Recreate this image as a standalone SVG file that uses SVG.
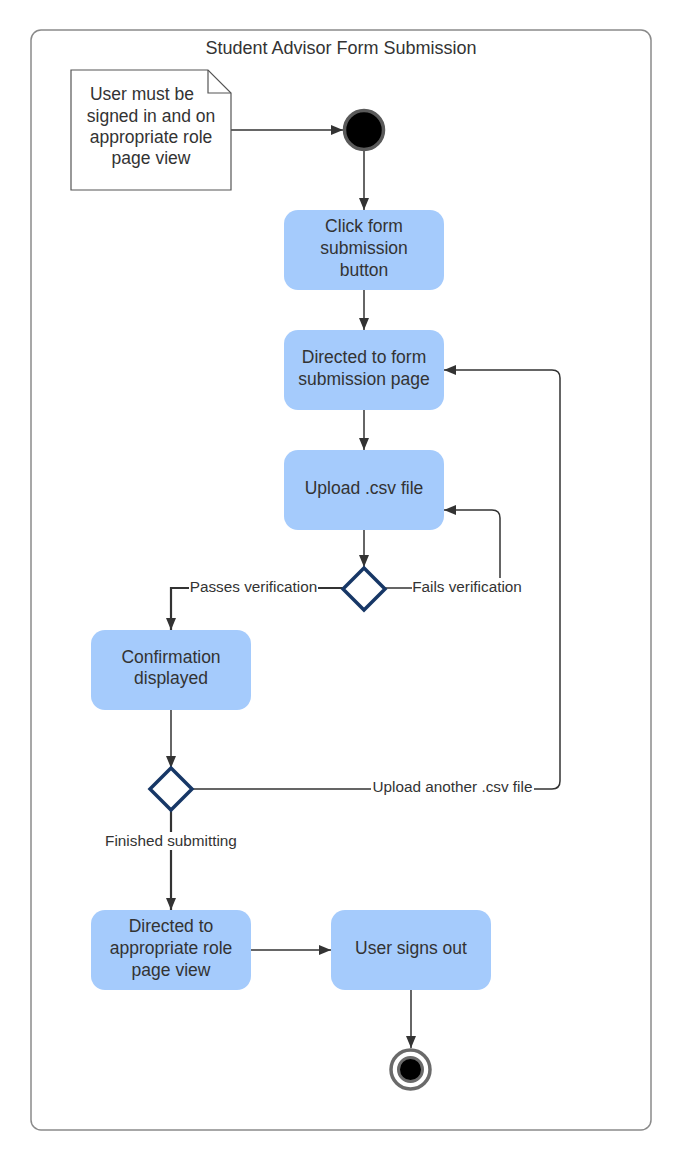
<svg xmlns="http://www.w3.org/2000/svg" width="683" height="1156" viewBox="0 0 683 1156">
<style>
.t{font-family:"Liberation Sans",Arial,sans-serif;font-size:17.5px;fill:#333;text-anchor:middle}
.tt{font-family:"Liberation Sans",Arial,sans-serif;font-size:18px;fill:#333;text-anchor:middle}
.lb{font-family:"Liberation Sans",Arial,sans-serif;font-size:15.3px;fill:#333;text-anchor:middle}
.node{fill:#a5cbfc;stroke:none}
.dia{fill:#fff;stroke:#173766;stroke-width:3.5;stroke-linejoin:miter}
.c{fill:none;stroke:#333;stroke-width:1.5}
.cb{fill:none;stroke:#333;stroke-width:2.2}
.bg{fill:#fff}
</style>
<defs>
<marker id="ar" viewBox="0 0 12 10" refX="12" refY="5" markerWidth="12" markerHeight="10" markerUnits="userSpaceOnUse" orient="auto">
<path d="M0,0 L12,5 L0,10 z" fill="#333"/>
</marker>
</defs>
<rect width="683" height="1156" fill="#fff"/>
<g id="frame">
<rect x="31" y="30" width="620" height="1100" rx="10" fill="none" stroke="#8a8a8a" stroke-width="1.5"/>
<text class="tt" x="341" y="54">Student Advisor Form Submission</text>
</g>
<g id="connectors">
<path class="c" d="M231,130 H343" marker-end="url(#ar)"/>
<path class="c" d="M364,151 V210" marker-end="url(#ar)"/>
<path class="c" d="M364,290 V330" marker-end="url(#ar)"/>
<path class="c" d="M364,410 V450" marker-end="url(#ar)"/>
<path class="c" d="M364,530 V567" marker-end="url(#ar)"/>
<path class="cb" d="M343,588 H171 V630" marker-end="url(#ar)"/>
<path class="c" d="M385,588 H500 V518 Q500,510 492,510 H444" marker-end="url(#ar)"/>
<path class="c" d="M171,710 V768" marker-end="url(#ar)"/>
<path class="c" d="M192,789 H552 Q560,789 560,781 V378 Q560,370 552,370 H444" marker-end="url(#ar)"/>
<path class="cb" d="M171,810 V910" marker-end="url(#ar)"/>
<path class="c" d="M251,950 H331" marker-end="url(#ar)"/>
<path class="c" d="M411,990 V1048" marker-end="url(#ar)"/>
<rect class="bg" x="189" y="578" width="129" height="18"/>
<text class="lb" x="253.5" y="592">Passes verification</text>
<rect class="bg" x="412" y="578" width="111" height="18"/>
<text class="lb" x="467" y="592">Fails verification</text>
<rect class="bg" x="371" y="778" width="163" height="18"/>
<text class="lb" x="452.5" y="792">Upload another .csv file</text>
<rect class="bg" x="103" y="832" width="136" height="18"/>
<text class="lb" x="171" y="846">Finished submitting</text>
</g>
<g id="note">
<path d="M71,70 H208 L231,93 V190 H71 Z" fill="#fff" stroke="#555" stroke-width="1.2"/>
<path d="M208,70 V93 H231" fill="none" stroke="#555" stroke-width="1.2"/>
<text class="t" x="142" y="100">User must be</text>
<text class="t" x="151" y="122">signed in and on</text>
<text class="t" x="151" y="143">appropriate role</text>
<text class="t" x="151" y="164">page view</text>
</g>
<g id="start">
<circle cx="364" cy="130" r="19.5" fill="#000" stroke="#5a5a5a" stroke-width="3.5"/>
</g>
<g id="click">
<rect class="node" x="284" y="210" width="160" height="80" rx="14"/>
<text class="t" x="364" y="232">Click form</text>
<text class="t" x="364" y="254">submission</text>
<text class="t" x="364" y="276">button</text>
</g>
<g id="directed-form">
<rect class="node" x="284" y="330" width="160" height="80" rx="14"/>
<text class="t" x="364" y="363">Directed to form</text>
<text class="t" x="364" y="385">submission page</text>
</g>
<g id="upload">
<rect class="node" x="284" y="450" width="160" height="80" rx="14"/>
<text class="t" x="364" y="494">Upload .csv file</text>
</g>
<g id="decision1">
<path class="dia" d="M364,568 L385,589 L364,610 L343,589 Z"/>
</g>
<g id="confirmation">
<rect class="node" x="91" y="630" width="160" height="80" rx="14"/>
<text class="t" x="171" y="663">Confirmation</text>
<text class="t" x="171" y="684">displayed</text>
</g>
<g id="decision2">
<path class="dia" d="M171,768 L192,789 L171,810 L150,789 Z"/>
</g>
<g id="directed-role">
<rect class="node" x="91" y="910" width="160" height="80" rx="14"/>
<text class="t" x="171" y="932">Directed to</text>
<text class="t" x="171" y="954">appropriate role</text>
<text class="t" x="171" y="976">page view</text>
</g>
<g id="signout">
<rect class="node" x="331" y="910" width="160" height="80" rx="14"/>
<text class="t" x="411" y="954">User signs out</text>
</g>
<g id="end">
<circle cx="410.5" cy="1069.5" r="19.5" fill="#fff" stroke="#6a6a6a" stroke-width="3.5"/>
<circle cx="410.5" cy="1069.5" r="12" fill="#000" stroke="#6a6a6a" stroke-width="3"/>
</g>
</svg>
